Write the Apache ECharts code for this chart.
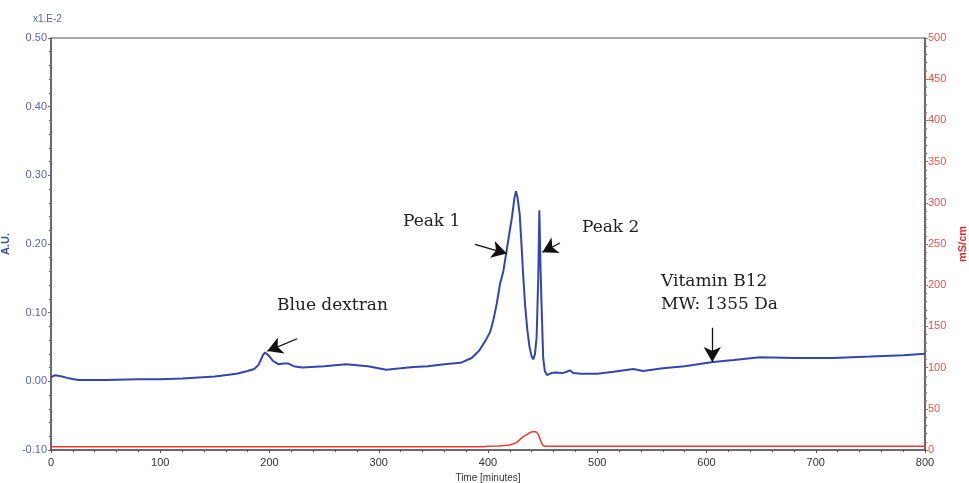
<!DOCTYPE html>
<html>
<head>
<meta charset="utf-8">
<script src="https://cdn.jsdelivr.net/npm/echarts@6/dist/echarts.min.js"></script>
<style>
  html, body { margin: 0; padding: 0; background: #fff; }
  #chart { width: 969px; height: 483px; }
</style>
</head>
<body>
<div id="chart"></div>
<script>
// elution time (minutes) / absorbance (x1e-2 A.U.)
const absTime = [0, 4, 10, 15, 25, 50, 80, 100, 120, 150, 170, 180, 186, 190, 194, 196, 199, 203, 208, 213, 217, 222, 230, 250, 270, 290, 307, 320, 332, 345, 360, 375, 385, 392, 398, 402, 405, 408, 411, 414, 417, 420, 422, 424, 425.6, 427, 429, 431, 432, 434, 436, 438, 440, 441.5, 443, 444.5, 446, 447, 448, 449, 450.5, 452, 454, 458, 462, 468, 472, 475, 478, 485, 500, 515, 533, 542, 560, 580, 606, 625, 649, 680, 716, 750, 780, 800];
const absValue = [0.006, 0.009, 0.007, 0.005, 0.002, 0.002, 0.003, 0.003, 0.004, 0.007, 0.011, 0.015, 0.018, 0.024, 0.038, 0.042, 0.038, 0.030, 0.025, 0.026, 0.026, 0.022, 0.020, 0.022, 0.025, 0.022, 0.017, 0.019, 0.021, 0.022, 0.025, 0.027, 0.034, 0.045, 0.060, 0.072, 0.090, 0.113, 0.142, 0.160, 0.190, 0.220, 0.240, 0.265, 0.277, 0.268, 0.244, 0.190, 0.160, 0.110, 0.075, 0.050, 0.036, 0.032, 0.040, 0.064, 0.150, 0.249, 0.170, 0.113, 0.035, 0.015, 0.009, 0.012, 0.013, 0.012, 0.014, 0.016, 0.012, 0.011, 0.011, 0.014, 0.018, 0.015, 0.019, 0.022, 0.028, 0.031, 0.035, 0.034, 0.034, 0.036, 0.038, 0.040];

// conductivity (mS/cm)
const condTime = [0, 395, 400, 410, 420, 426, 432, 437, 440, 444, 446, 448, 450, 452, 460, 800];
const condValue = [4, 4, 4.5, 5, 6, 9, 16, 20, 22, 22, 19, 12, 6, 4.5, 4.5, 4.5];

// annotation arrows: [fromTime, fromAbs, toTime, toAbs]
const arrows = [
  [225.4, 0.062, 198.0, 0.044],
  [388.1, 0.1995, 417.2, 0.186],
  [465.9, 0.2015, 449.7, 0.188],
  [605.3, 0.078, 605.3, 0.028]
];

const chart = echarts.init(document.getElementById('chart'));

const axisGray = '#555';
const blueLbl = '#5b64ad';
const redLbl = '#e5534b';
const tickFont = '"Liberation Sans Narrow", "Liberation Sans", Arial, sans-serif';
const noteFont = '"DejaVu Serif", "Liberation Serif", serif';

const absData = absTime.map((t, i) => [t, absValue[i]]);
const condData = condTime.map((t, i) => [t, condValue[i]]);

const option = {
  animation: false,
  grid: {
    left: 51, right: 44, top: 38, bottom: 33,
    outerBoundsMode: 'none', containLabel: false,
    show: true, borderColor: axisGray, borderWidth: 1
  },
  xAxis: {
    type: 'value', min: 0, max: 800, interval: 100,
    name: 'Time [minutes]', nameLocation: 'middle', nameGap: 20,
    nameTextStyle: { fontFamily: tickFont, fontSize: 10, color: '#333' },
    axisLine: { onZero: false, lineStyle: { color: axisGray, width: 1.5 } },
    axisTick: { length: 3, lineStyle: { color: axisGray } },
    minorTick: { show: true, splitNumber: 5, length: 2, lineStyle: { color: axisGray } },
    axisLabel: { fontFamily: tickFont, fontSize: 11, color: '#333', margin: 7 },
    splitLine: { show: false }
  },
  yAxis: [{
    type: 'value', min: -0.1, max: 0.5, interval: 0.1, position: 'left',
    name: 'A.U.', nameLocation: 'middle', nameRotate: 90, nameGap: 36,
    nameTextStyle: { fontFamily: tickFont, fontSize: 11, fontWeight: 'bold', color: '#3d4fa8' },
    axisLine: { show: true, onZero: false, lineStyle: { color: axisGray, width: 1.5 } },
    axisTick: { show: true, length: 3, lineStyle: { color: blueLbl } },
    minorTick: { show: true, splitNumber: 5, length: 2, lineStyle: { color: blueLbl } },
    axisLabel: { fontFamily: tickFont, fontSize: 11, color: blueLbl, margin: 4,
      formatter: v => v.toFixed(2) },
    splitLine: { show: false }
  }, {
    type: 'value', min: 0, max: 500, interval: 50, position: 'right',
    name: 'mS/cm', nameLocation: 'middle', nameRotate: 90, nameGap: 30,
    nameTextStyle: { fontFamily: tickFont, fontSize: 11, fontWeight: 'bold', color: '#e0302a' },
    axisLine: { show: true, onZero: false, lineStyle: { color: axisGray, width: 1.5 } },
    axisTick: { show: true, length: 3, lineStyle: { color: redLbl } },
    minorTick: { show: true, splitNumber: 5, length: 2, lineStyle: { color: redLbl } },
    axisLabel: { fontFamily: tickFont, fontSize: 11, color: redLbl, margin: 3 },
    splitLine: { show: false }
  }],
  graphic: [
    { type: 'text', left: 33, top: 14, style: { text: 'x1.E-2', font: '10px ' + tickFont, fill: blueLbl } },
    { type: 'text', left: 403, top: 213, style: { text: 'Peak 1', font: '17px ' + noteFont, fill: '#222' } },
    { type: 'text', left: 582, top: 219, style: { text: 'Peak 2', font: '17px ' + noteFont, fill: '#222' } },
    { type: 'text', left: 277, top: 297, style: { text: 'Blue dextran', font: '17px ' + noteFont, fill: '#222' } },
    { type: 'text', left: 661, top: 270, style: { text: 'Vitamin B12\nMW: 1355 Da', font: '17px ' + noteFont, fill: '#222', lineHeight: 23 } }
  ],
  series: [{
    name: 'Absorbance', type: 'line', yAxisIndex: 0, data: absData,
    showSymbol: false,
    lineStyle: { color: '#3346b0', width: 2 },
    z: 3,
    markLine: {
      silent: true, symbol: ['none', 'arrow'], symbolSize: [13, 15],
      lineStyle: { color: '#111', type: 'solid', width: 1.3 },
      label: { show: false },
      data: arrows.map(a => [{ coord: [a[0], a[1]] }, { coord: [a[2], a[3]] }])
    }
  }, {
    name: 'Conductivity', type: 'line', yAxisIndex: 1, data: condData,
    showSymbol: false,
    lineStyle: { color: '#ee3a33', width: 1.5 },
    z: 2
  }]
};

chart.setOption(option);
</script>
</body>
</html>
